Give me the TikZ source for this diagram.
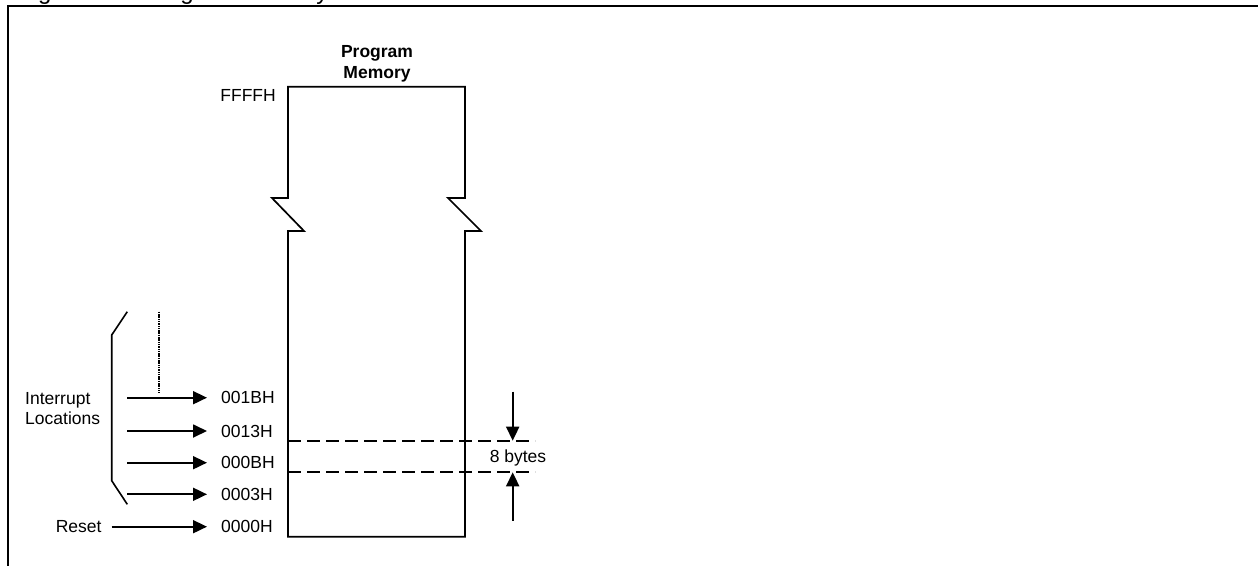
\documentclass[tikz,border=0pt]{standalone}
\usepackage{fontspec}
\setmainfont{Liberation Sans}
\usetikzlibrary{arrows.meta}
\begin{document}
\begin{tikzpicture}[x=1pt,y=-1pt,
  frame/.style={line width=2pt},
  memline/.style={line width=1.7pt, line join=miter},
  lbl/.style={font=\fontsize{17.5}{21}\selectfont, inner sep=0pt, text height=12.5pt, text depth=0pt},
  ttl/.style={font=\bfseries\fontsize{17.5}{21}\selectfont, inner sep=0pt, align=center},
  arr/.style={line width=1.8pt, -{Triangle[length=14pt,width=13pt]}},
  dashline/.style={line width=1.9pt, dash pattern=on 12.7pt off 6.3pt},
  dotline/.style={line width=2.2pt, dash pattern=on 1.5pt off 0.8pt}]
\useasboundingbox (0,0) rectangle (1258,565);
% clipped caption and frame
\begin{scope}
\clip (0,0) rectangle (1258,565);
\node[font=\fontsize{24}{28}\selectfont, inner sep=0pt, anchor=base west] (cap) at (18,-1) {Figure 3-1: Program Memory};
\draw[frame] (8,570) -- (8,6) -- (1265,6);
\end{scope}
% memory block
\coordinate (mbl) at (288,536.7);
\coordinate (mbr) at (465,536.7);
\draw[memline] (mbl) -- (288,231) -- (304,231) -- (272,198) -- (288,198) -- (288,86.7)
  -- (465,86.7) -- (465,198) -- (448,198) -- (481,231) -- (465,231) -- (mbr) -- cycle;
\node[ttl, anchor=base] (pm) at (377,78.3) {Program\\Memory};
\node[lbl, anchor=east] (ff) at (276,95) {FFFFH};
% address labels
\node[lbl, anchor=west] (l1b) at (221,397.7) {001BH};
\node[lbl, anchor=west] (l13) at (221,431) {0013H};
\node[lbl, anchor=west] (l0b) at (221,462.7) {000BH};
\node[lbl, anchor=west] (l03) at (221,494.3) {0003H};
\node[lbl, anchor=west] (l00) at (221,526.7) {0000H};
\coordinate (s1b) at (127,397.7);
\coordinate (s13) at (127,431);
\coordinate (s0b) at (127,462.7);
\coordinate (s03) at (127,494.3);
\node[lbl, anchor=east] (rst) at (101.7,526.7) {Reset};
\draw[arr, shorten >=14pt] (s1b) -- (l1b.west);
\draw[arr, shorten >=14pt] (s13) -- (l13.west);
\draw[arr, shorten >=14pt] (s0b) -- (l0b.west);
\draw[arr, shorten >=14pt] (s03) -- (l03.west);
\draw[arr, shorten >=14pt, shorten <=10pt] (rst.east) -- (l00.west);
% interrupt bracket
\draw[line width=1.6pt] (127.3,311.7) -- (111.7,335) -- (111.7,480.7) -- (127.3,504.3);
\node[font=\fontsize{17.5}{20}\selectfont, inner sep=0pt, align=left, anchor=base west] (intl) at (25,424) {Interrupt\\Locations};
% dotted
\coordinate (dt) at (159.3,311.7);
\coordinate (db) at (159.3,392.7);
\draw[dotline] (dt) -- (db);
% dashed boundaries
\coordinate (d1a) at (288,440.7);
\coordinate (d1b) at (535,440.7);
\coordinate (d2a) at (288,472.3);
\coordinate (d2b) at (535,472.3);
\draw[dashline] (d1a) -- (d1b);
\draw[dashline] (d2a) -- (d2b);
% 8 bytes
\coordinate (ta) at (512.7,391.7);
\coordinate (tb) at (512.7,440.7);
\coordinate (ba) at (512.7,520.7);
\coordinate (bb) at (512.7,472.3);
\draw[arr] (ta) -- (tb);
\draw[arr] (ba) -- (bb);
\node[lbl, anchor=center] (eb) at (518,456.5) {8 bytes};
\end{tikzpicture}
\end{document}
